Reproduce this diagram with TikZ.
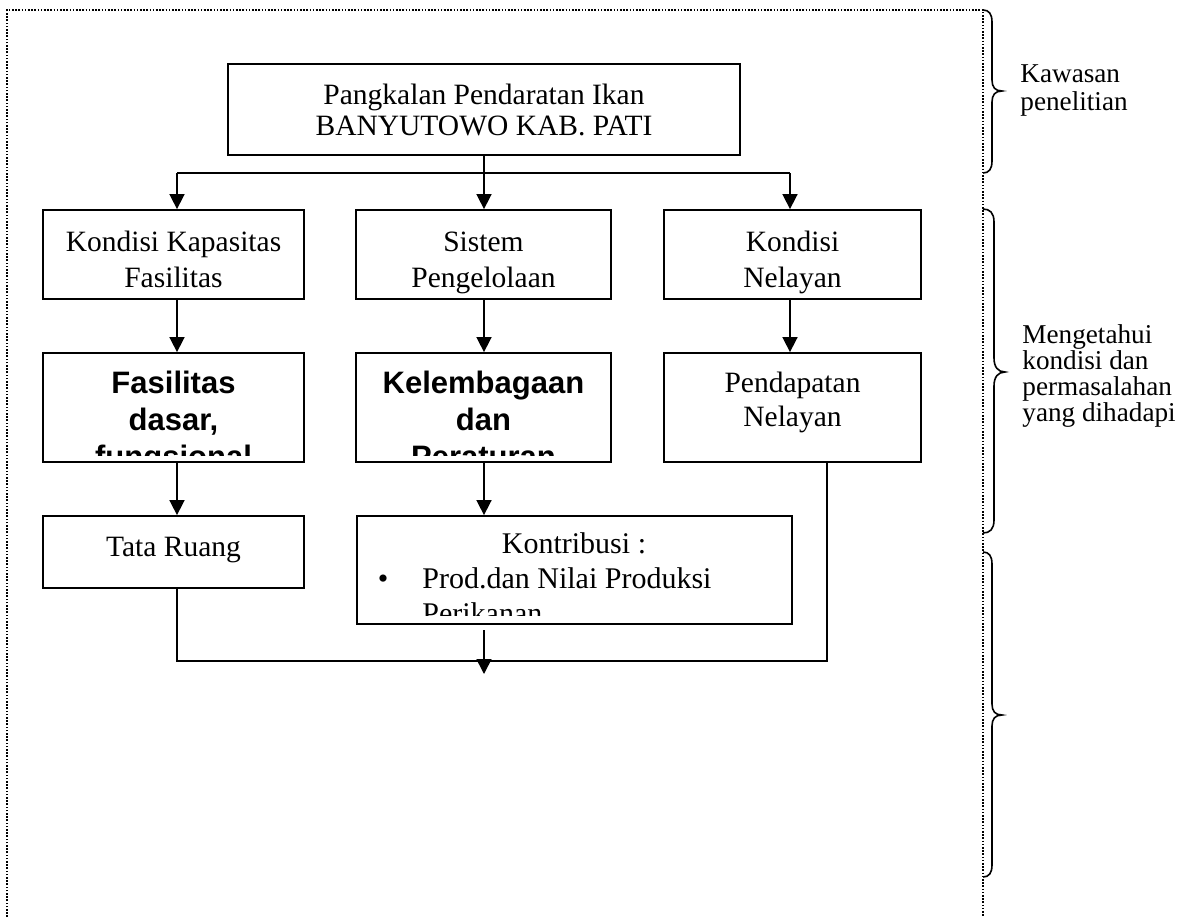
\documentclass[tikz,border=0pt]{standalone}
\usepackage{fontspec}
\setmainfont{Liberation Serif}
\newfontfamily\bsans{Liberation Sans}
\usetikzlibrary{arrows.meta,fit}
\begin{document}
\begin{tikzpicture}[x=0.5pt,y=-0.5pt,
  box/.style={draw, line width=0.9pt, inner sep=0pt},
  txt/.style={inner sep=0pt, anchor=base, font=\fontsize{14.75pt}{17.75pt}\selectfont},
  btxt/.style={inner sep=0pt, anchor=base, font=\bsans\bfseries\fontsize{15.5pt}{18.5pt}\selectfont},
  ktxt/.style={inner sep=0pt, font=\fontsize{15pt}{17.5pt}\selectfont},
  side/.style={inner sep=0pt, anchor=base west, font=\fontsize{13.6pt}{13.6pt}\selectfont},
  conn/.style={line width=0.8pt, -{Triangle[length=7.5pt,width=7.5pt]}},
  plain/.style={line width=0.8pt},
  framedot/.style={line width=0.6pt, dash pattern=on 0.8pt off 0.8pt},
  bracestyle/.style={line width=0.8pt}]
\useasboundingbox (0,0) rectangle (1184,917);

% dotted frame
\draw[framedot] (7,917) -- (7,10) -- (983,10) -- (983,917);

% boxes
\node[box, fit={(228,64) (740,155)}] (top) {};
\node[txt] (top1) at (484,104) {Pangkalan Pendaratan Ikan};
\node[txt] (top2) at (484,135) {BANYUTOWO KAB. PATI};

\node[box, fit={(43,210) (304,299)}] (k1) {};
\node[txt] (k1a) at (173.5,251) {Kondisi Kapasitas};
\node[txt] (k1b) at (173.5,287) {Fasilitas};
\node[box, fit={(356,210) (611,299)}] (k2) {};
\node[txt] (k2a) at (483.5,251) {Sistem};
\node[txt] (k2b) at (483.5,287) {Pengelolaan};
\node[box, fit={(664,210) (921,299)}] (k3) {};
\node[txt] (k3a) at (792.5,251) {Kondisi};
\node[txt] (k3b) at (792.5,287) {Nelayan};

\node[box, fit={(43,353) (304,462)}] (f1) {};
\node[box, fit={(356,353) (611,462)}] (f2) {};
\node[box, fit={(664,353) (921,462)}] (f3) {};
\node[txt] (f3a) at (792.5,392) {Pendapatan};
\node[txt] (f3b) at (792.5,426) {Nelayan};

\begin{scope}
\clip (45,355) rectangle (302,455);
\node[btxt] (f1a) at (173.5,393) {Fasilitas};
\node[btxt] (f1b) at (173.5,430) {dasar,};
\node[btxt] (f1c) at (173.5,467) {fungsional};
\end{scope}
\begin{scope}
\clip (358,355) rectangle (609,455);
\node[btxt] (f2a) at (483.5,393) {Kelembagaan};
\node[btxt] (f2b) at (483.5,430) {dan};
\node[btxt] (f2c) at (483.5,467) {Peraturan};
\end{scope}

\node[box, fit={(43,516) (304,588)}] (tr) {};
\node[txt] (trt) at (173.5,556) {Tata Ruang};
\node[box, fit={(357,516) (792,624)}] (kon) {};
\begin{scope}
\clip (359,518) rectangle (790,615);
\node[ktxt, anchor=base] (kon1) at (574,553) {Kontribusi :};
\node[ktxt, anchor=base] (kon2) at (383,588) {•};
\node[ktxt, anchor=base west] (kon3) at (422,588) {Prod.dan Nilai Produksi};
\node[ktxt, anchor=base west] (kon4) at (422,623) {Perikanan};
\end{scope}

% connector coordinates
\coordinate (xa) at (177,0);
\coordinate (xb) at (484,0);
\coordinate (xc) at (790,0);
\coordinate (xd) at (827,0);
\coordinate (hubL) at (177,173);
\coordinate (hubM) at (484,173);
\coordinate (hubR) at (790,173);
\coordinate (botL) at (177,661);
\coordinate (botR) at (827,661);
\coordinate (ks) at (484,630);
\coordinate (ke) at (484,674);

\draw[plain] (top.south) -- (hubM);
\draw[plain] (hubL) -- (hubR);
\draw[conn] (hubL) -- (xa |- k1.north);
\draw[conn] (hubM) -- (xb |- k2.north);
\draw[conn] (hubR) -- (xc |- k3.north);

\draw[conn] (xa |- k1.south) -- (xa |- f1.north);
\draw[conn] (xb |- k2.south) -- (xb |- f2.north);
\draw[conn] (xc |- k3.south) -- (xc |- f3.north);

\draw[conn] (xa |- f1.south) -- (xa |- tr.north);
\draw[conn] (xb |- f2.south) -- (xb |- kon.north);

\draw[plain] (xa |- tr.south) -- (botL) -- (botR) -- (xd |- f3.south);
\draw[conn] (ks) -- (ke);

% braces
\draw[bracestyle] (983,10) .. controls (989,10) and (992,14) .. (992,22) -- (992,80)
  .. controls (992,87) and (995,91) .. (1002,91)
  .. controls (995,91) and (992,95) .. (992,102) -- (992,161)
  .. controls (992,169) and (989,173) .. (983,173);
\draw[bracestyle] (983,209) .. controls (990,209) and (994,213) .. (994,222) -- (994,358)
  .. controls (994,367) and (998,372) .. (1005,372)
  .. controls (998,372) and (994,377) .. (994,386) -- (994,520)
  .. controls (994,529) and (990,533) .. (983,533);
\draw[bracestyle] (983,552) .. controls (989,552) and (992,556) .. (992,564) -- (992,704)
  .. controls (992,711) and (995,715) .. (1002,715)
  .. controls (995,715) and (992,719) .. (992,726) -- (992,865)
  .. controls (992,873) and (989,877) .. (983,877);

% side texts
\node[side] (s1) at (1020,82) {Kawasan};
\node[side] (s2) at (1020,110) {penelitian};
\node[side] (s3) at (1022,343) {Mengetahui};
\node[side] (s4) at (1022,369) {kondisi dan};
\node[side] (s5) at (1022,395) {permasalahan};
\node[side] (s6) at (1022,421) {yang dihadapi};
\end{tikzpicture}
\end{document}
